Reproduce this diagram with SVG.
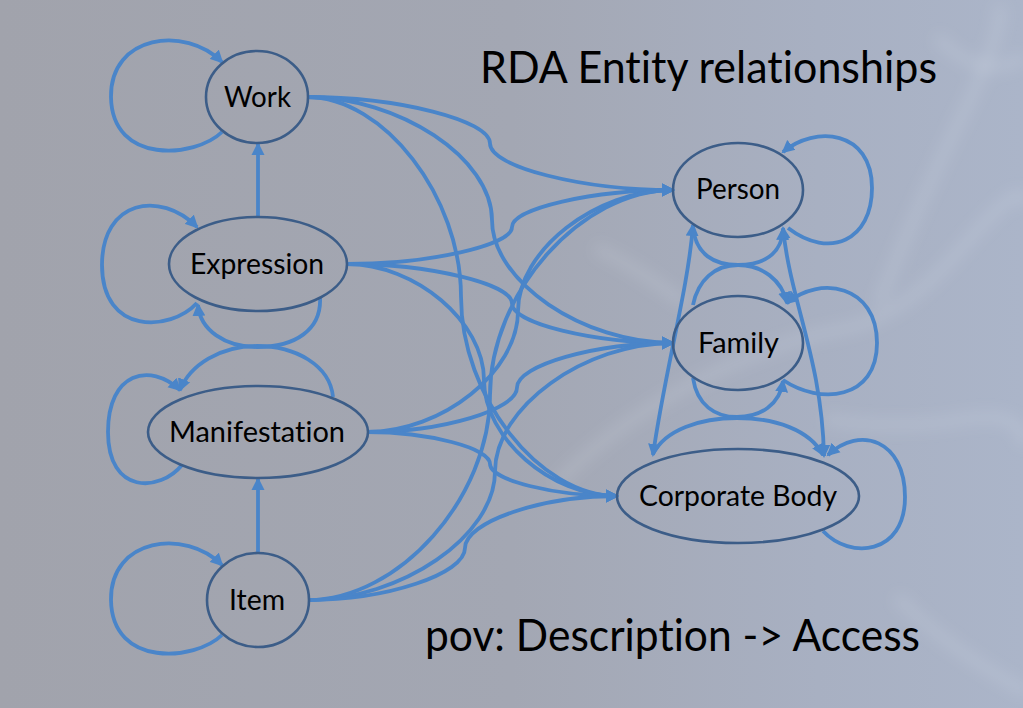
<svg xmlns="http://www.w3.org/2000/svg" width="1023" height="708" viewBox="0 0 1023 708">
<defs>
<linearGradient id="bg" x1="0" y1="0" x2="1" y2="0">
<stop offset="0" stop-color="#a1a3ac"/>
<stop offset="0.5" stop-color="#a3a7b3"/>
<stop offset="0.8" stop-color="#a8b0c2"/>
<stop offset="1" stop-color="#abb5c9"/>
</linearGradient>
<filter id="blur" x="-20%" y="-20%" width="140%" height="140%"><feGaussianBlur stdDeviation="7"/></filter>
<marker id="ah" markerUnits="userSpaceOnUse" markerWidth="14" markerHeight="14" viewBox="0 0 14 14" refX="11" refY="7" orient="auto-start-reverse">
<path d="M0,0.5 L13,7 L0,13.5 Z" fill="#4a85c9"/>
</marker>
<style>
.c{fill:none;stroke:#4a85c9;stroke-width:3.8;}
.a{marker-end:url(#ah);}
.b{marker-start:url(#ah);marker-end:url(#ah);}
.n{fill:none;stroke:#3c5d88;stroke-width:2.6;}
.t{font-family:Lato,"Open Sans",sans-serif;font-size:28.5px;fill:#000;text-anchor:middle;font-variant-ligatures:none;font-feature-settings:"liga" 0,"clig" 0,"dlig" 0;}
.h{font-family:Lato,"Open Sans",sans-serif;font-size:44px;fill:#000;font-variant-ligatures:none;font-feature-settings:"liga" 0,"clig" 0,"dlig" 0;}
</style>
</defs>
<rect width="1023" height="708" fill="url(#bg)"/>
<g filter="url(#blur)" fill="none" stroke="#e8eef4" stroke-opacity="0.13" stroke-width="12" stroke-linecap="round">
<path d="M560,480 Q620,420 700,380 T840,330 T960,250 T1023,200"/>
<path d="M830,420 Q900,430 960,420 T1023,440"/>
<path d="M880,300 Q920,200 960,120 T1000,10"/>
<path d="M600,250 Q640,270 680,300"/>
<path d="M900,600 Q950,650 1023,690"/>
<path d="M940,40 Q980,80 1020,60"/>
</g>
<g id="connectors">
<path class="c a" d="M222,132 C195,158 112,165 111,97 C110,35 185,25 222,62"/>
<path class="c a" d="M258,217 L258,144"/>
<path class="c a" d="M197,303 C170,332 102,335 102,265 C102,200 160,190 197,227"/>
<path class="c a" d="M320,297 C322,330 295,347 257,347 C225,347 200,330 198,305"/>
<path class="c a" d="M333,397 C330,365 295,346 257,346 C220,346 190,365 180,390"/>
<path class="c a" d="M182,465 C160,492 108,495 108,432 C108,372 150,362 180,390"/>
<path class="c a" d="M258,552 L258,479"/>
<path class="c a" d="M222,635 C195,661 112,668 111,600 C110,538 185,528 222,565"/>
<path class="c a" d="M307,97 C398.5,97 490,120.3 490,143.5 C490,166.8 581.5,190 673,190"/>
<path class="c a" d="M307,97 C399.5,97 492,158.5 492,220 C492,281.5 582.5,343 673,343"/>
<path class="c a" d="M307,97 C384,97 461,196.8 461,296.5 C461,396.3 539,496 617,496"/>
<path class="c a" d="M347,264 C429.5,264 512,245.5 512,227 C512,208.5 592.5,190 673,190"/>
<path class="c a" d="M347,264 C429.5,264 512,283.8 512,303.5 C512,323.3 592.5,343 673,343"/>
<path class="c a" d="M347,264 C415.5,264 484,322 484,380 C484,438 550.5,496 617,496"/>
<path class="c a" d="M367,432 C442.5,432 518,371.5 518,311 C518,250.5 595.5,190 673,190"/>
<path class="c a" d="M367,432 C442,432 517,409.8 517,387.5 C517,365.3 595,343 673,343"/>
<path class="c a" d="M367,432 C428.5,432 490,448 490,464 C490,480 553.5,496 617,496"/>
<path class="c a" d="M308,600 C399,600 490,497.5 490,395 C490,292.5 581.5,190 673,190"/>
<path class="c a" d="M308,600 C401.5,600 495,535.8 495,471.5 C495,407.3 584,343 673,343"/>
<path class="c a" d="M308,600 C386.5,600 465,574 465,548 C465,522 541,496 617,496"/>
<path class="c a" d="M788,228 C830,260 872,240 872,188 C872,130 815,125 783,152"/>
<path class="c a" d="M693,226 C695,255 715,265 738,265 C762,265 782,255 783,229"/>
<path class="c a" d="M693,305 C698,280 715,265 738,265 C762,265 782,280 787,303"/>
<path class="c a" d="M783,380 C820,405 877,400 877,343 C877,285 820,275 787,303"/>
<path class="c a" d="M693,378 C697,405 715,417 737,417 C760,417 780,405 783,381"/>
<path class="c a" d="M653,454 C665,430 700,418 737,418 C775,418 810,430 823,455"/>
<path class="c a" d="M823,531 C850,560 905,555 905,497 C905,440 860,425 828,455"/>
<path class="c b" d="M693,225 C688,290 665,370 653,455"/>
<path class="c b" d="M783,228 C790,300 822,360 824,456"/>
</g>
<g id="node-work"><ellipse class="n" cx="257" cy="97" rx="51" ry="46"/><text class="t" x="257.5" y="107" textLength="67" lengthAdjust="spacingAndGlyphs">Work</text></g>
<g id="node-expression"><ellipse class="n" cx="258" cy="264" rx="89" ry="47"/><text class="t" x="257" y="274" textLength="134" lengthAdjust="spacingAndGlyphs">Expression</text></g>
<g id="node-manifestation"><ellipse class="n" cx="258" cy="432" rx="110" ry="46"/><text class="t" x="257" y="442" textLength="176" lengthAdjust="spacingAndGlyphs">Manifestation</text></g>
<g id="node-item"><ellipse class="n" cx="258" cy="600" rx="51" ry="47"/><text class="t" x="257" y="610" textLength="56" lengthAdjust="spacingAndGlyphs">Item</text></g>
<g id="node-person"><ellipse class="n" cx="738" cy="190" rx="65" ry="47"/><text class="t" x="738" y="199" textLength="84" lengthAdjust="spacingAndGlyphs">Person</text></g>
<g id="node-family"><ellipse class="n" cx="738" cy="343" rx="65" ry="47"/><text class="t" x="738.5" y="353" textLength="81" lengthAdjust="spacingAndGlyphs">Family</text></g>
<g id="node-corporate-body"><ellipse class="n" cx="738" cy="496" rx="121" ry="47"/><text class="t" x="738" y="506" textLength="198" lengthAdjust="spacingAndGlyphs">Corporate Body</text></g>
<g id="titles">
<text class="h" x="480" y="83" textLength="457" lengthAdjust="spacingAndGlyphs">RDA Entity relationships</text>
<text class="h" x="425" y="651" textLength="495" lengthAdjust="spacingAndGlyphs">pov: Description -&gt; Access</text>
</g>
</svg>
